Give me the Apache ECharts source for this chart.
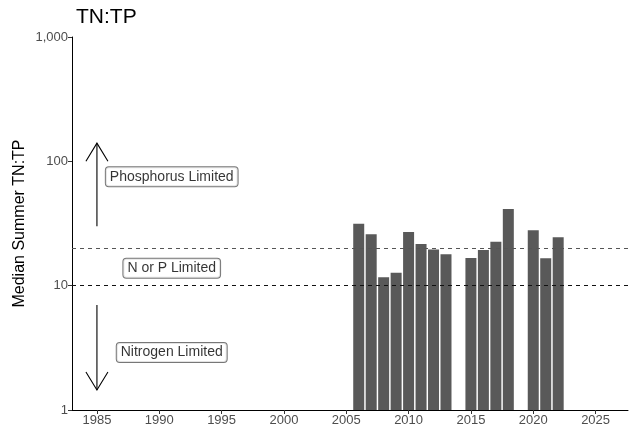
<!DOCTYPE html>
<html>
<head>
<meta charset="utf-8">
<script src="https://cdn.jsdelivr.net/npm/echarts@6/dist/echarts.min.js"></script>
<style>
  html, body { margin: 0; padding: 0; background: #fff; }
  #chart { width: 631px; height: 436px; }
</style>
</head>
<body>
<div id="chart"></div>
<script>
// median summer TN:TP by year
var years = [2006, 2007, 2008, 2009, 2010, 2011, 2012, 2013, 2015, 2016, 2017, 2018, 2020, 2021, 2022];
var ratios = [31.5, 25.9, 11.7, 12.7, 27.0, 21.6, 19.5, 17.9, 16.7, 19.4, 22.6, 41.4, 27.9, 16.6, 24.5];

var xTicks = [1985, 1990, 1995, 2000, 2005, 2010, 2015, 2020, 2025];
var yTicks = [1, 10, 100, 1000];
var thresholds = [20, 10];

// annotation arrows and boxes
var arrowYear = 1985;
var arrows = [[30, 140], [7, 1.45]];
var labelYear = 1991;
var labelNames = ['Phosphorus Limited', 'N or P Limited', 'Nitrogen Limited'];
var labelValues = [75, 13.8, 2.9];

var chart = echarts.init(document.getElementById('chart'));

var barData = years.map(function(y, i){ return [y, ratios[i]]; });
var labelData = labelNames.map(function(n, i){ return {name: n, value: [labelYear, labelValues[i]]}; });
var arrowData = arrows.map(function(a){ return [arrowYear, a[0], a[1]]; });

var option = {
    animation: false,
    title: {
        text: 'TN:TP',
        left: 71,
        top: 2,
        textStyle: { fontFamily: 'Liberation Sans', fontSize: 21, fontWeight: 'normal', color: '#000' }
    },
    grid: { left: 72, right: 3, top: 37, bottom: 26, outerBoundsMode: 'none' },
    xAxis: {
        type: 'value',
        min: 1983,
        max: 2027.6,
        splitLine: { show: false },
        axisLine: { show: true, lineStyle: { color: '#000', width: 1 } },
        axisTick: { show: true, length: 4, customValues: xTicks, lineStyle: { color: '#333' } },
        axisLabel: {
            customValues: xTicks,
            color: '#4d4d4d',
            fontFamily: 'Liberation Sans',
            fontSize: 13,
            margin: 4,
            formatter: function(v){ return String(v); }
        }
    },
    yAxis: {
        type: 'log',
        logBase: 10,
        min: 1,
        max: 1000,
        name: 'Median Summer TN:TP',
        nameLocation: 'middle',
        nameGap: 44,
        nameMoveOverlap: false,
        nameTextStyle: { fontFamily: 'Liberation Sans', fontSize: 16, color: '#000' },
        splitLine: { show: false },
        axisLine: { show: true, lineStyle: { color: '#000', width: 1 } },
        axisTick: { show: true, length: 4, customValues: yTicks, lineStyle: { color: '#333' } },
        axisLabel: {
            customValues: yTicks,
            color: '#4d4d4d',
            fontFamily: 'Liberation Sans',
            fontSize: 13,
            margin: 4,
            formatter: function(v){ return Math.round(v).toLocaleString('en-US'); }
        }
    },
    series: [
        {
            type: 'bar',
            data: barData,
            barWidth: 11,
            itemStyle: { color: '#595959' },
            markLine: {
                silent: true,
                symbol: 'none',
                label: { show: false },
                data: [
                    { yAxis: thresholds[0], lineStyle: { color: '#555', type: [4, 4], width: 1 } },
                    { yAxis: thresholds[1], lineStyle: { color: '#111', type: [4, 4], width: 1 } }
                ]
            }
        },
        {
            type: 'custom',
            data: arrowData,
            silent: true,
            renderItem: function(params, api){
                var p0 = api.coord([api.value(0), api.value(1)]);
                var p1 = api.coord([api.value(0), api.value(2)]);
                var dir = p1[1] < p0[1] ? 1 : -1;
                var style = { stroke: '#000', lineWidth: 1.1, fill: 'none' };
                return {
                    type: 'group',
                    children: [
                        { type: 'line', shape: { x1: p0[0], y1: p0[1], x2: p1[0], y2: p1[1] }, style: style },
                        { type: 'polyline', shape: { points: [
                            [p1[0] - 11, p1[1] + dir * 18],
                            [p1[0], p1[1]],
                            [p1[0] + 11, p1[1] + dir * 18]
                        ] }, style: style }
                    ]
                };
            }
        },
        {
            type: 'scatter',
            data: labelData,
            symbolSize: 0,
            silent: true,
            label: {
                show: true,
                position: 'inside',
                formatter: '{b}',
                fontFamily: 'Liberation Sans',
                fontSize: 14,
                color: '#000',
                backgroundColor: '#fff',
                borderColor: '#555',
                borderWidth: 1,
                borderRadius: 3,
                padding: [3, 4, 2, 4]
            }
        }
    ]
};

chart.setOption(option);
</script>
</body>
</html>
